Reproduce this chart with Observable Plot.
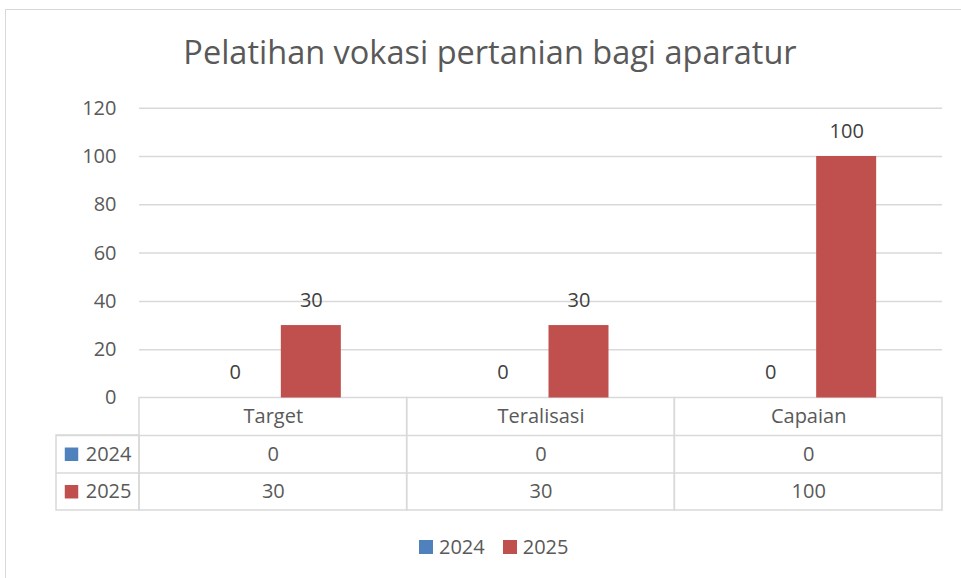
<!DOCTYPE html>
<html><head><meta charset="utf-8">
<script src="https://cdn.jsdelivr.net/npm/d3@7"></script>
<script src="https://cdn.jsdelivr.net/npm/@observablehq/plot@0.6"></script>
<style>
body{margin:0;overflow:hidden;background:#fff;font-family:"Open Sans",sans-serif;}
#wrap{position:relative;width:961px;height:578px;overflow:hidden;}
#border{position:absolute;left:5px;top:9px;width:2000px;height:2000px;border:1.5px solid #d9d9d9;}
#title{position:absolute;left:0;top:36px;width:980px;text-align:center;font-size:32.5px;line-height:32.5px;color:#595959;white-space:nowrap;}
#chart{position:absolute;left:0;top:0;}
#legend{position:absolute;left:419px;top:537px;height:20px;display:flex;align-items:center;font-size:20px;line-height:20px;color:#595959;}
#legend .item{display:flex;align-items:center;margin-right:18px;}
#legend .sw{width:14px;height:14px;margin-right:6px;}
</style>
</head><body>
<div id="wrap">
  <div id="border"></div>
  <div id="title">Pelatihan vokasi pertanian bagi aparatur</div>
  <div id="chart"></div>
  <div id="legend"></div>
</div>
<script>
const categories = ["Target", "Teralisasi", "Capaian"];
const series = ["2024", "2025"];
const values2024 = [0, 0, 0];
const values2025 = [30, 30, 100];
const seriesColors = ["#4f81bd", "#c0504d"];
const yTicks = [0, 20, 40, 60, 80, 100, 120];

const seriesValues = [values2024, values2025];
const rowsBySeries = series.map((s, si) => categories.map((c, ci) => ({series: s, category: c, value: seriesValues[si][ci]})));

const W = 961, H = 578;
const mL = 139, mR = 19, mT = 107.7, mB = 180.5;
const bw = (W - mL - mR) / categories.length;
const barW = 60, barOff = 38;
const rowH = 37.5;
const labelColW = 83;
const grid = "#d9d9d9";
const txt = "#595959";
const dataTxt = "#404040";

const marks = [];
// gridlines
marks.push(Plot.ruleY(yTicks.filter(t => t > 0), {stroke: grid, strokeWidth: 1.5}));
// table cells (category columns)
marks.push(Plot.barY(categories, {x: d => d, y1: () => 0, y2: () => 0, insetBottom: -3 * rowH, fill: "none", stroke: grid, strokeWidth: 1.5}));
// label column
marks.push(Plot.barY([categories[0]], {x: d => d, y1: () => 0, y2: () => 0, insetLeft: -labelColW, insetRight: bw, insetTop: rowH, insetBottom: -3 * rowH, fill: "none", stroke: grid, strokeWidth: 1.5}));
// row separators
marks.push(Plot.ruleY([0], {dy: rowH, insetLeft: -labelColW, stroke: grid, strokeWidth: 1.5}));
marks.push(Plot.ruleY([0], {dy: 2 * rowH, insetLeft: -labelColW, stroke: grid, strokeWidth: 1.5}));
// bars & labels
series.forEach((s, si) => {
  const sign = si === 0 ? -1 : 1;
  const left = bw / 2 + sign * barOff - barW / 2;
  marks.push(Plot.barY(rowsBySeries[si], {x: "category", y: "value", fill: "series", insetLeft: left, insetRight: bw - left - barW}));
  marks.push(Plot.text(rowsBySeries[si], {x: "category", y: "value", text: d => String(d.value), dx: sign * barOff, dy: -25, fontSize: 20, fill: dataTxt, lineAnchor: "middle"}));
  // table values
  marks.push(Plot.text(rowsBySeries[si], {x: "category", y: () => 0, text: d => String(d.value), dy: rowH * (si + 1.5), fontSize: 20, fill: txt, lineAnchor: "middle"}));
  // row label
  marks.push(Plot.text([s], {frameAnchor: "left", y: () => 0, text: d => d, dx: -8, dy: rowH * (si + 1.5), textAnchor: "end", fontSize: 20, fill: txt, lineAnchor: "middle"}));
  marks.push(Plot.dot([s], {frameAnchor: "left", y: () => 0, dx: -68, dy: rowH * (si + 1.5), symbol: "square", r: 7.6, fill: d => d, stroke: "none"}));
});
// header
marks.push(Plot.text(categories, {x: d => d, y: () => 0, text: d => d, dy: rowH * 0.5, fontSize: 20, fill: txt, lineAnchor: "middle"}));

const chart = Plot.plot({
  width: W, height: H,
  marginLeft: mL, marginRight: mR, marginTop: mT, marginBottom: mB,
  style: {fontFamily: "Open Sans", fontSize: "20px", color: txt, background: "transparent", overflow: "visible"},
  x: {domain: categories, padding: 0, round: false, axis: null},
  y: {domain: [0, 120], ticks: yTicks, tickSize: 0, tickPadding: 23, label: null, tickFormat: d => String(d)},
  color: {domain: series, range: seriesColors},
  marks
});
document.getElementById("chart").appendChild(chart);

const legend = document.getElementById("legend");
series.forEach((s, i) => {
  const item = document.createElement("div");
  item.className = "item";
  const sw = document.createElement("div");
  sw.className = "sw";
  sw.style.background = seriesColors[i];
  const t = document.createElement("span");
  t.textContent = s;
  item.appendChild(sw); item.appendChild(t);
  legend.appendChild(item);
});
</script>
</body></html>
